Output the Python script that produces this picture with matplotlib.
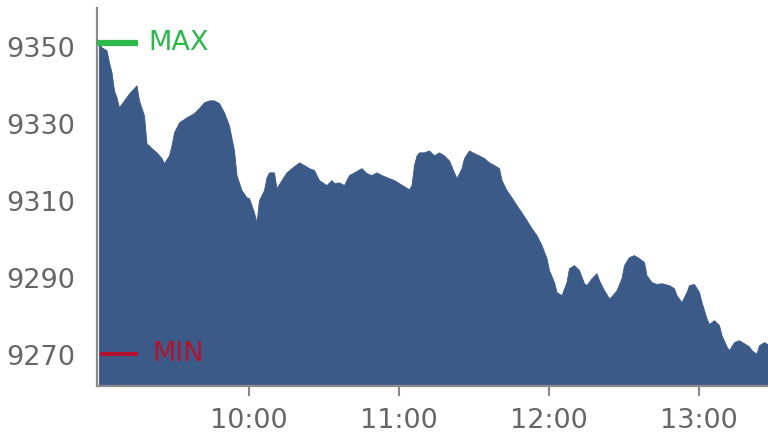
import matplotlib
matplotlib.use("Agg")
import matplotlib.pyplot as plt

# minutes after 09:00
minutes = [0, 1, 3, 4, 5, 6, 7, 8, 10, 12, 14, 15, 16, 18, 19, 20, 21, 23, 25, 26,
           28, 29, 30, 32, 35, 38, 40, 42, 44, 46, 48, 50, 52, 54, 55, 57, 59, 60, 62, 63,
           64, 66, 67, 68, 70, 71, 73, 75, 77, 80, 82, 84, 86, 88, 91, 93, 94, 96, 98, 100,
           102, 105, 107, 109, 111, 113, 116, 118, 120, 122, 124, 125, 126, 127, 128, 130, 132, 134, 136, 138,
           140, 142, 143, 145, 146, 148, 150, 152, 154, 156, 158, 160, 161, 163, 165, 167, 169, 171, 173, 175,
           177, 179, 180, 182, 183, 185, 187, 188, 190, 192, 194, 195, 197, 199, 200, 202, 204, 205, 207, 209,
           210, 212, 214, 216, 218, 219, 221, 223, 225, 228, 230, 231, 233, 235, 236, 238, 240, 241, 243, 244,
           246, 248, 249, 251, 252, 254, 256, 258, 260, 261, 263, 264, 266, 268]
values = [9351.2, 9350.0, 9349.2, 9346.1, 9343.5, 9338.8, 9337.0, 9334.4, 9336.2, 9338.0,
          9339.4, 9340.1, 9336.2, 9332.3, 9325.0, 9324.5, 9323.8, 9322.7, 9321.2, 9319.9,
          9321.9, 9324.5, 9327.9, 9330.5, 9331.8, 9332.9, 9334.2, 9335.7, 9336.2, 9336.2,
          9335.5, 9333.1, 9329.7, 9323.2, 9316.8, 9312.9, 9311.0, 9310.8, 9307.1, 9304.5,
          9310.3, 9312.9, 9316.2, 9317.5, 9317.5, 9313.4, 9315.5, 9317.5, 9318.6, 9320.1,
          9319.4, 9318.6, 9318.1, 9315.5, 9314.2, 9315.5, 9314.7, 9314.9, 9314.2, 9316.8,
          9317.5, 9318.6, 9317.3, 9316.8, 9317.5, 9316.8, 9316.0, 9315.5, 9314.7, 9313.9,
          9313.1, 9314.2, 9319.4, 9321.9, 9322.7, 9322.7, 9323.2, 9321.9, 9322.7, 9321.9,
          9320.6, 9317.5, 9316.0, 9318.6, 9321.2, 9323.2, 9322.5, 9321.9, 9321.2, 9320.1,
          9319.4, 9318.6, 9315.5, 9312.9, 9311.0, 9309.0, 9307.1, 9305.1, 9303.0, 9301.2,
          9298.6, 9295.2, 9292.1, 9289.0, 9286.4, 9285.6, 9289.0, 9292.6, 9293.4, 9292.1,
          9288.7, 9288.2, 9290.0, 9291.3, 9289.5, 9286.9, 9284.8, 9285.3, 9286.9, 9290.0,
          9293.4, 9295.5, 9296.0, 9295.2, 9294.2, 9290.8, 9289.0, 9288.5, 9288.7, 9288.2,
          9287.4, 9285.6, 9283.8, 9286.4, 9288.2, 9288.5, 9286.4, 9283.8, 9279.6, 9278.1,
          9279.1, 9277.8, 9275.2, 9272.3, 9271.3, 9273.4, 9273.9, 9273.1, 9272.3, 9271.3,
          9270.4, 9272.6, 9273.4, 9272.6]

y_ticks = [9270, 9290, 9310, 9330, 9350]
x_tick_minutes = [60, 120, 180, 240]
x_tick_labels = ["10:00", "11:00", "12:00", "13:00"]

fill_color = "#3c5a88"
text_color = "#666666"
axis_color = "#8a8a8a"
max_color = "#2cb84a"
min_color = "#b5122f"

fig = plt.figure(figsize=(7.68, 4.38), dpi=100)
ax = fig.add_axes([97 / 768, 1 - 386 / 438, 671 / 768, 378 / 438])

ymin_ax = 9262.0
ax.fill_between(minutes, values, ymin_ax, color=fill_color, linewidth=0.6,
                edgecolor=fill_color)

ax.set_xlim(-0.8, 267.6)
ax.set_ylim(ymin_ax, 9360.2)

ax.set_yticks(y_ticks)
ax.set_yticklabels([str(v) for v in y_ticks])
ax.set_xticks(x_tick_minutes)
ax.set_xticklabels(x_tick_labels)

ax.tick_params(axis="y", length=0, pad=16, labelsize=19.5, labelcolor=text_color)
ax.tick_params(axis="x", length=7, width=1.5, color=axis_color, pad=9,
               labelsize=19.5, labelcolor=text_color)

for s in ["top", "right"]:
    ax.spines[s].set_visible(False)
for s in ["left", "bottom"]:
    ax.spines[s].set_color(axis_color)
    ax.spines[s].set_linewidth(1.6)
    ax.spines[s].set_zorder(5)

vmax = max(values)
vmin = min(values)
trans = ax.get_yaxis_transform()
ax.plot([0.0, 0.061], [vmax, vmax], color=max_color, lw=4.5, transform=trans,
        solid_capstyle="butt", zorder=6, clip_on=False)
ax.text(0.076, vmax, "MAX", color=max_color, fontsize=19.5, va="center", ha="left",
        transform=trans)
ax.plot([0.004, 0.061], [vmin, vmin], color=min_color, lw=3, transform=trans,
        solid_capstyle="butt", zorder=6)
ax.text(0.082, vmin, "MIN", color=min_color, fontsize=19.5, va="center", ha="left",
        transform=trans)

fig.savefig("out.png", dpi=100)
